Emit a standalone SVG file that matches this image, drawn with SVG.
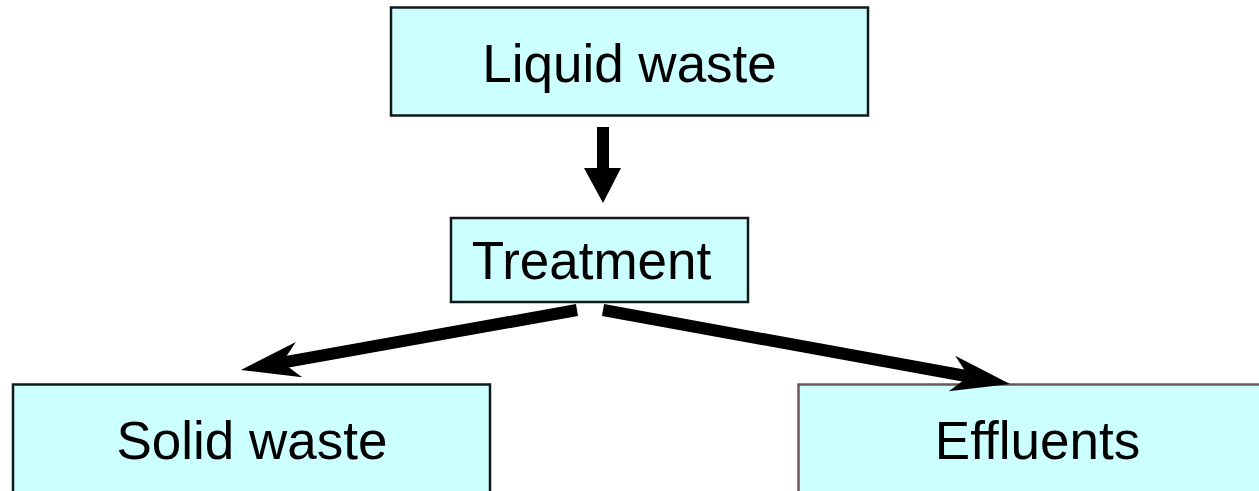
<svg xmlns="http://www.w3.org/2000/svg" width="1259" height="491" viewBox="0 0 1259 491">
  <style>
    .box { fill: #CCFFFF; stroke: #111818; stroke-width: 2.5; }
    .box2 { fill: #CCFFFF; stroke: #6B5A52; stroke-width: 2.5; }
    .lbl { font-family: "Liberation Sans", Arial, sans-serif; font-size: 53px; fill: #000; text-anchor: middle; }
    .conn { stroke: #000; stroke-width: 12; fill: none; }
  </style>
  <defs>
    <marker id="head" markerUnits="userSpaceOnUse" viewBox="-62 -22 64 44" markerWidth="64" markerHeight="44" refX="-42" refY="0" orient="auto">
      <path d="M0,0 L-59,-18 L-42,0 L-59,18 Z" fill="#000"/>
    </marker>
  </defs>
  <rect width="1259" height="491" fill="#fff"/>
  <g id="liquid-waste">
    <rect class="box" x="391" y="7.5" width="477" height="108"/>
    <text class="lbl" x="629.5" y="81.5">Liquid waste</text>
  </g>
  <g id="treatment">
    <rect class="box" x="451" y="218" width="297" height="84"/>
    <text class="lbl" x="591.5" y="279">Treatment</text>
  </g>
  <g id="solid-waste">
    <rect class="box" x="13" y="384.5" width="477" height="120"/>
    <text class="lbl" x="252" y="459">Solid waste</text>
  </g>
  <g id="effluents">
    <rect class="box2" x="798.5" y="384.5" width="480" height="120"/>
    <text class="lbl" x="1037.5" y="458.5">Effluents</text>
  </g>
  <g id="connectors">
    <polygon points="597,127 609,127 609,168 621,168 603,203 584,168 597,168" fill="#000"/>
    <line class="conn" x1="577" y1="310" x2="282.3" y2="362.6" marker-end="url(#head)"/>
    <line class="conn" x1="603" y1="310" x2="968.7" y2="376.5" marker-end="url(#head)"/>
  </g>
</svg>
